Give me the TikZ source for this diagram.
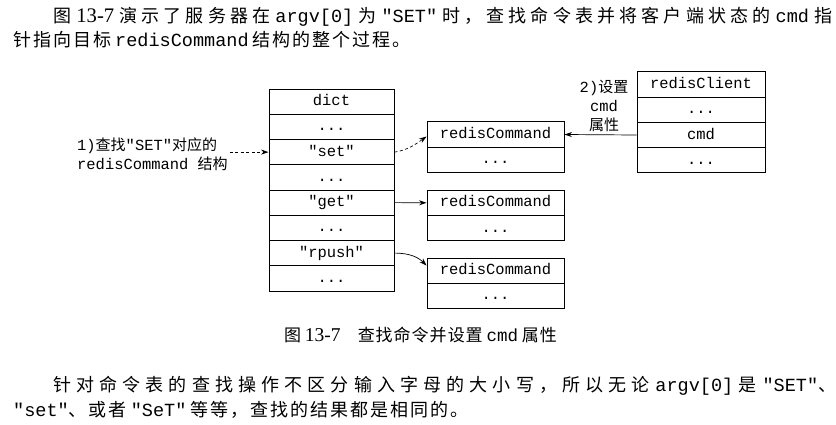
\documentclass[tikz,border=0pt]{standalone}
\usepackage{fontspec}
\setmainfont{Noto Sans CJK SC}
\newfontfamily\codefont{Liberation Mono}[Scale=1.03]
\newfontfamily\numfont{Liberation Serif}[Scale=1.15]
\usetikzlibrary{arrows.meta}

% glue between CJK characters, so that a line can be stretched
\newskip\cjkskip
\newXeTeXintercharclass\cjkclass
\newcount\cjkn
\cjkn="4E00
\loop
  \XeTeXcharclass\cjkn=\cjkclass
  \advance\cjkn by 1
\ifnum\cjkn<"A000 \repeat
\XeTeXcharclass"3001=\cjkclass
\XeTeXcharclass"3002=\cjkclass
\XeTeXcharclass"FF0C=\cjkclass
\XeTeXinterchartoks\cjkclass\cjkclass={\hskip\cjkskip}
\newcommand\cd[1]{{\codefont #1}}
\newcommand\nm[1]{{\numfont #1}}

\begin{document}
\begin{tikzpicture}[x=1pt,y=-1pt,
    txt/.style={inner sep=0pt,anchor=base west,
      font={\fontsize{18}{22}\selectfont\cjkskip=2pt plus 4pt\relax\XeTeXinterchartokenstate=1 }},
    captxt/.style={inner sep=0pt,anchor=base,
      font={\fontsize{17}{21}\selectfont\cjkskip=1pt plus 2pt\relax\XeTeXinterchartokenstate=1 }},
    row/.style={draw,line width=0.9pt,minimum height=25.25pt,inner sep=0pt,
      text height=10pt,text depth=2pt,font={\fontsize{15}{19}\selectfont\codefont}},
    dictrow/.style={row,minimum width=125pt},
    cmdrow/.style={row,minimum width=137pt},
    clirow/.style={row,minimum width=128pt},
    lbl/.style={inner sep=2pt,font={\fontsize{15}{19}\selectfont}},
    arr/.style={-{Stealth[length=7.5pt,width=5pt]},line width=0.7pt},
    dsh/.style={dash pattern=on 3pt off 2.5pt}]
    \path[use as bounding box,fill=white] (0,0) rectangle (836,424);

    % text above
    \node[txt] (t1) at (53,22.3) {\makebox[779pt][s]{图 \nm{13-7} 演示了服务器在 \cd{argv[0]} 为 \cd{"SET"} 时，查找命令表并将客户端状态的 \cd{cmd} 指}};
    \node[txt] (t2) at (13,46.8) {针指向目标 \cd{redisCommand} 结构的整个过程。};

    % dict
    \node[dictrow] (d1) at (331.5,101.6) {dict};
    \node[dictrow] (d2) at (331.5,126.9) {...};
    \node[dictrow] (d3) at (331.5,152.1) {"set"};
    \node[dictrow] (d4) at (331.5,177.4) {...};
    \node[dictrow] (d5) at (331.5,202.6) {"get"};
    \node[dictrow] (d6) at (331.5,227.9) {...};
    \node[dictrow] (d7) at (331.5,253.1) {"rpush"};
    \node[dictrow] (d8) at (331.5,278.4) {...};

    % redisCommand
    \node[cmdrow] (c1a) at (495.5,134.5) {redisCommand};
    \node[cmdrow] (c1b) at (495.5,159.75) {...};
    \node[cmdrow] (c2a) at (495.5,202.8) {redisCommand};
    \node[cmdrow] (c2b) at (495.5,228.05) {...};
    \node[cmdrow] (c3a) at (495.5,270.6) {redisCommand};
    \node[cmdrow] (c3b) at (495.5,295.85) {...};

    % redisClient
    \node[clirow] (cl1) at (701,84.5) {redisClient};
    \node[clirow] (cl2) at (701,109.75) {...};
    \node[clirow] (cl3) at (701,135) {cmd};
    \node[clirow] (cl4) at (701,160.25) {...};

    \node[lbl,anchor=west,align=left] (lab1) at (75,154.5) {\cd{1)}查找\cd{"SET"}对应的\\\cd{redisCommand }结构};
    \node[lbl,align=center] (lab2) at (604,106) {\cd{2)}设置\\\cd{cmd}\\属性};

    \draw[arr,dsh] (lab1.east |- d3) -- (d3.west);
    \draw[arr,dsh] (d3.east) .. controls +(14,-2) and +(-10,7) .. ([yshift=-2pt]c1a.west);
    \draw[arr] (d5.east) -- (c2a.west);
    \draw[arr] (d7.east) .. controls +(16,0) and +(-8,-8) .. ([yshift=5pt]c3a.west);
    \draw[arr] (cl3.west) -- (c1a.east);

    \node[captxt] (caption) at (420.5,341.5) {图 \nm{13-7}\hspace{1em}查找命令并设置 \cd{cmd} 属性};

    % text below
    \node[txt] (t3) at (53,391.3) {\makebox[783pt][s]{针对命令表的查找操作不区分输入字母的大小写，所以无论 \cd{argv[0]} 是 \cd{"SET"}、}};
    \node[txt] (t4) at (13,416.3) {\cd{"set"}、或者 \cd{"SeT"} 等等，查找的结果都是相同的。};
\end{tikzpicture}
\end{document}
